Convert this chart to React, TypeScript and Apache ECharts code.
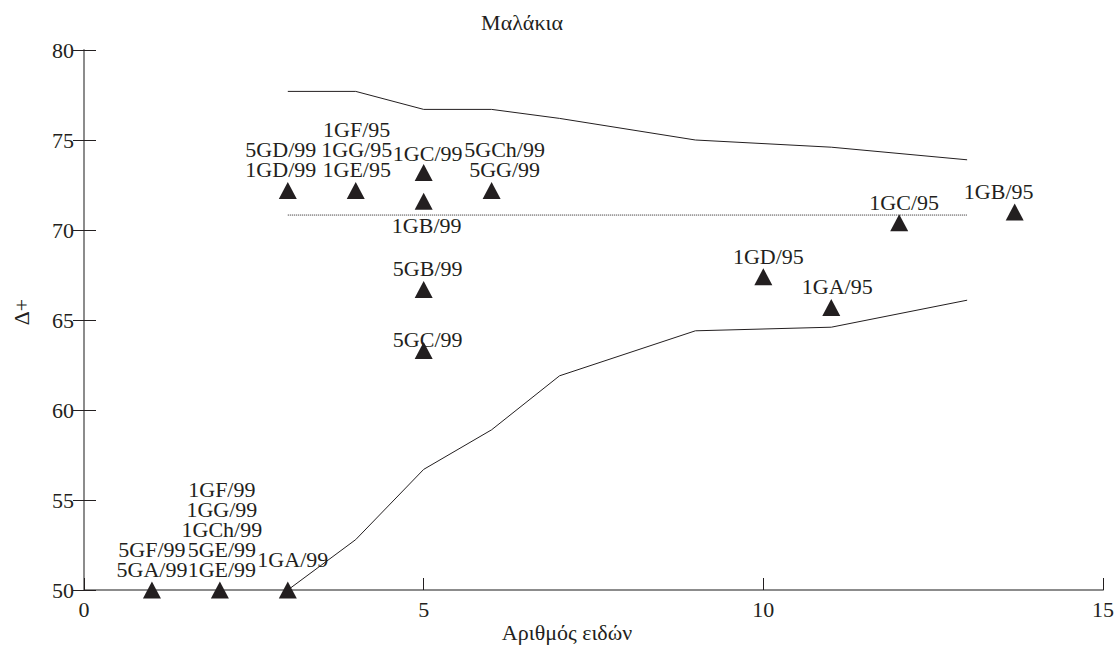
import React, { useEffect, useRef } from "react";
import * as echarts from "echarts";

const titleText = "Μαλάκια";
const xAxisName = "Αριθμός ειδών";
const yAxisName = "Δ+";

const pointX = [1, 2, 3, 3, 4, 5, 5, 5, 5, 6, 10, 11, 12, 13.7];
const pointY = [50, 50, 50, 72.2, 72.2, 73.2, 71.6, 66.7, 63.3, 72.2, 67.4, 65.7, 70.4, 71.0];
const pointLabels = [
  ["5GF/99", "5GA/99"],
  ["1GF/99", "1GG/99", "1GCh/99", "5GE/99", "1GE/99"],
  ["1GA/99"],
  ["5GD/99", "1GD/99"],
  ["1GF/95", "1GG/95", "1GE/95"],
  ["1GC/99"],
  ["1GB/99"],
  ["5GB/99"],
  ["5GC/99"],
  ["5GCh/99", "5GG/99"],
  ["1GD/95"],
  ["1GA/95"],
  ["1GC/95"],
  ["1GB/95"],
];

const limitX = [3, 4, 5, 6, 7, 9, 11, 13];
const upperLimit = [77.7, 77.7, 76.7, 76.7, 76.2, 75.0, 74.6, 73.9];
const lowerLimit = [50, 52.8, 56.7, 58.9, 61.9, 64.4, 64.6, 66.1];

const meanX = [3, 13];
const meanY = [70.83, 70.83];

const FONT = "'Liberation Serif', 'Times New Roman', serif";
const INK = "#231f20";

export default function App() {
  const ref = useRef<HTMLDivElement>(null);
  useEffect(() => {
    if (!ref.current) return;
    const chart = echarts.init(ref.current, null, { renderer: "svg" });

    const labelTweaks: Record<number, any> = {
      1: { offset: [2, 0] },
      2: { offset: [5, -10] },
      3: { offset: [-7, 0] },
      4: { offset: [1, 0] },
      5: { offset: [4, 0], distance: 0 },
      6: { position: "bottom", distance: 6, offset: [3, 0] },
      7: { offset: [4, 0] },
      8: { distance: -7, offset: [4, 0] },
      9: { offset: [13, 0] },
      10: { offset: [5, 0] },
      11: { offset: [6, 0] },
      12: { offset: [5, 0] },
      13: { offset: [-16, 0] },
    };

    const scatterData = pointX.map((x, i) => ({
      value: [x, pointY[i]],
      label: {
        show: true,
        position: "top",
        distance: 2,
        formatter: pointLabels[i].join("\n"),
        ...(labelTweaks[i] || {}),
      },
    }));

    const option: any = {
      animation: false,
      backgroundColor: "#ffffff",
      textStyle: { fontFamily: FONT, color: INK },
      grid: { left: 84, right: 17, top: 50, bottom: 56 },
      xAxis: {
        type: "value",
        min: 0,
        max: 15,
        interval: 5,
        axisLine: { show: true, lineStyle: { color: "#8c8c8c", width: 2 } },
        axisTick: { show: true, inside: true, length: 12, lineStyle: { color: INK, width: 1 } },
        axisLabel: { fontSize: 22, fontFamily: FONT, color: INK, margin: 8 },
        splitLine: { show: false },
      },
      yAxis: [
        {
          type: "value",
          min: 50,
          max: 80,
          interval: 5,
          axisLine: { show: true, lineStyle: { color: "#8c8c8c", width: 2 } },
          axisTick: { show: true, inside: true, length: 12, lineStyle: { color: INK, width: 1 } },
          axisLabel: { fontSize: 22, fontFamily: FONT, color: INK, margin: 10 },
          splitLine: { show: false },
        },
        {
          type: "value",
          position: "left",
          min: 50,
          max: 80,
          interval: 5,
          axisLine: { show: false },
          axisTick: { show: true, inside: false, length: 11, lineStyle: { color: INK, width: 1 } },
          axisLabel: { show: false },
          splitLine: { show: false },
        },
      ],
      series: [
        {
          type: "line",
          data: limitX.map((x, i) => [x, upperLimit[i]]),
          symbol: "none",
          lineStyle: { color: INK, width: 1 },
          silent: true,
        },
        {
          type: "line",
          data: limitX.map((x, i) => [x, lowerLimit[i]]),
          symbol: "none",
          lineStyle: { color: INK, width: 1 },
          silent: true,
        },
        {
          type: "line",
          data: meanX.map((x, i) => [x, meanY[i]]),
          symbol: "none",
          lineStyle: { color: INK, width: 1, type: [1, 1] },
          silent: true,
        },
        {
          type: "scatter",
          data: scatterData,
          symbol: "triangle",
          symbolSize: [18, 17],
          itemStyle: { color: INK, opacity: 1 },
          label: {
            fontSize: 22,
            lineHeight: 20,
            fontFamily: FONT,
            color: INK,
          },
          z: 5,
        },
      ],
      graphic: [
        {
          type: "text",
          x: 522,
          y: 22,
          style: {
            text: titleText,
            font: `22px ${FONT}`,
            fill: INK,
            align: "center",
            verticalAlign: "middle",
          },
        },
        {
          type: "text",
          x: 567,
          y: 632,
          style: {
            text: xAxisName,
            font: `22px ${FONT}`,
            fill: INK,
            align: "center",
            verticalAlign: "middle",
          },
        },
        {
          type: "text",
          x: 21,
          y: 312,
          rotation: Math.PI / 2,
          style: {
            text: yAxisName,
            font: `22px ${FONT}`,
            fill: INK,
            align: "center",
            verticalAlign: "middle",
          },
        },
      ],
    };
    chart.setOption(option);
    return () => chart.dispose();
  }, []);

  return (
    <div
      ref={ref}
      style={{ position: "fixed", left: 0, top: 0, width: 1120, height: 646, background: "#fff" }}
    />
  );
}
